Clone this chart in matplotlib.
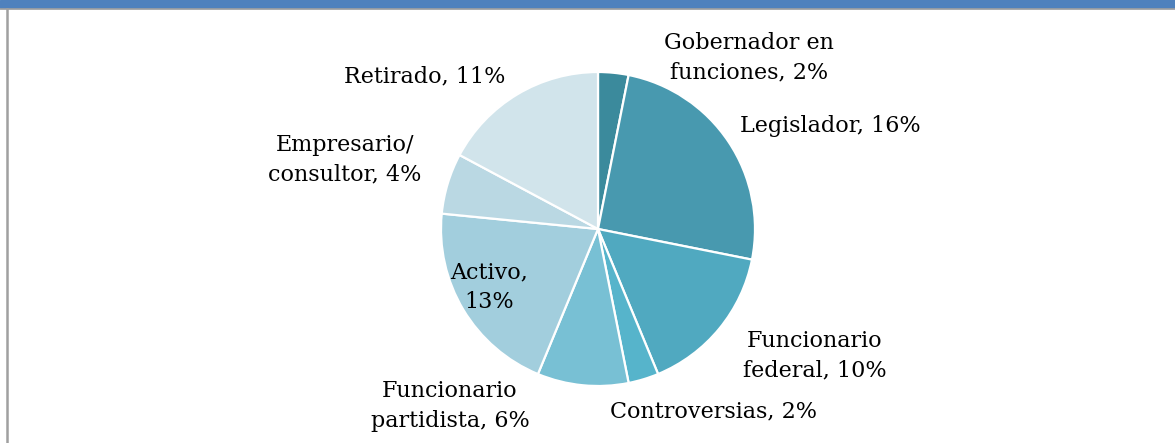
import matplotlib.pyplot as plt
from matplotlib.patches import Rectangle
from matplotlib.lines import Line2D

labels = ['Gobernador en\nfunciones', 'Legislador', 'Funcionario\nfederal',
          'Controversias', 'Funcionario\npartidista', 'Activo,\n', 'Empresario/\nconsultor',
          'Retirado']
values = [2, 16, 10, 2, 6, 13, 4, 11]
colors = ['#3b8a9c', '#4899af', '#50a9c0', '#56b4cb', '#78c0d4', '#a2cedd', '#bad8e3', '#d1e4eb']

# label centres in pixel coords (x, y from top)
label_pos = [(749, 58), (830, 126), (815, 356), (714, 411), (450, 406), (489, 287),
             (345, 160), (425, 76)]

W, H = 1175, 443
fig = plt.figure(figsize=(W / 100, H / 100), dpi=100)
ax = fig.add_axes([0, 0, 1, 1])

# frame: blue header bar, grey rule under it and grey left border
ax.add_patch(Rectangle((0, H - 8), W, 8, color='#4f81bd', zorder=5))
ax.add_line(Line2D([0, W], [H - 8.5, H - 8.5], color='#a0a0a0', lw=1.2, zorder=5))
ax.add_line(Line2D([7, 7], [0, H - 8.5], color='#a0a0a0', lw=1.8, zorder=5))

cx, cy, r = 598, H - 229, 157
ax.pie(values, colors=colors, startangle=90, counterclock=False, center=(cx, cy),
       radius=r, wedgeprops=dict(edgecolor='white', linewidth=1.6), frame=True)
ax.set_xlim(0, W)
ax.set_ylim(0, H)
ax.set_aspect('equal')
ax.axis('off')

for lab, v, (x, y) in zip(labels, values, label_pos):
    if lab.endswith('\n'):
        text = f'{lab}{v}%'
    else:
        text = f'{lab}, {v}%'
    ax.text(x, H - y, text, ha='center', va='center', fontsize=16,
            family='DejaVu Serif', color='black', linespacing=1.45)

fig.savefig('out.png', dpi=100)
